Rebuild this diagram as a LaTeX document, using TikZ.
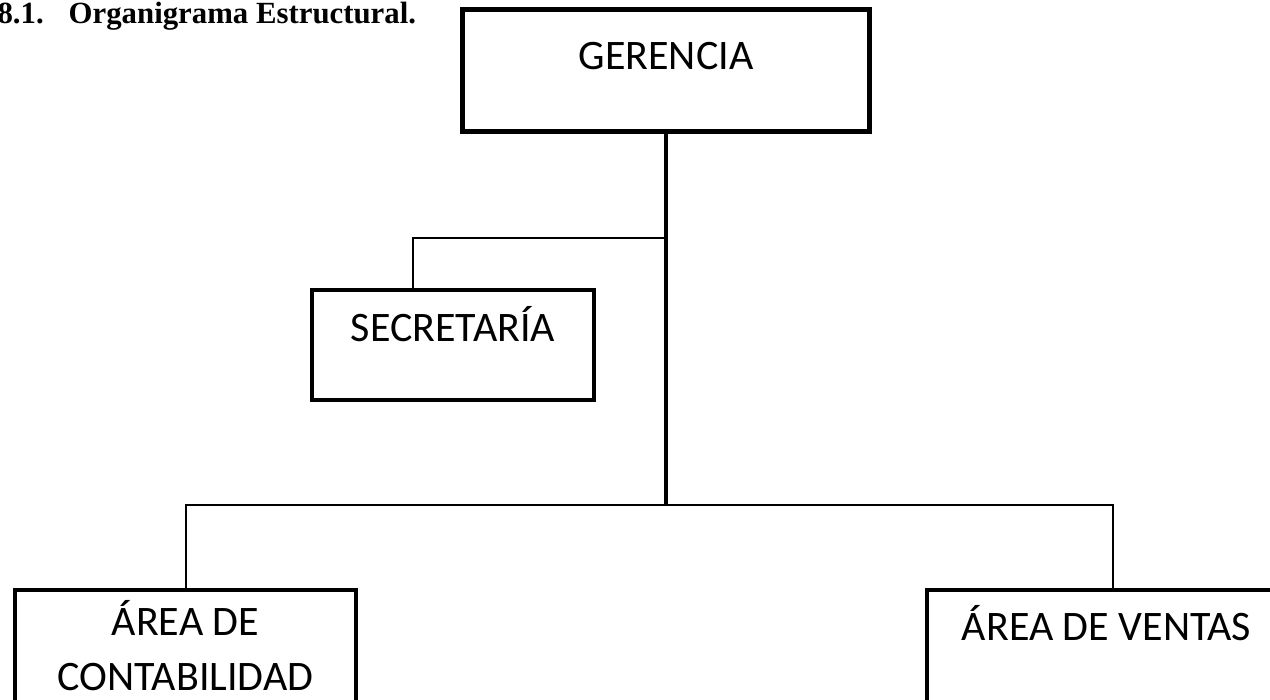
\documentclass[tikz,border=0pt]{standalone}
\usepackage{fontspec}
\setmainfont{Carlito}
\newfontfamily\titulofont{Liberation Serif}
\begin{document}
\begin{tikzpicture}[x=1pt, y=-1pt,
    caja/.style={draw, anchor=north, outer sep=0pt, inner ysep=0pt, align=center,
      font=\fontsize{42}{55}\selectfont},
    linea/.style={line width=2pt},
    tronco/.style={line width=4pt}]
    \useasboundingbox (0,0) rectangle (1270,700);
    \clip (0,0) rectangle (1270,700);

    % Título del apartado.
    \node[anchor=base west, font=\titulofont\bfseries\fontsize{30.8}{36}\selectfont]
      (titulo) at (-6,24) {8.1.\hspace{25pt}Organigrama Estructural.};

    % Cajas del organigrama.
    \node[caja, line width=5pt, minimum width=407pt, text height=60pt, text depth=62pt]
      (ger) at (666,10) {GERENCIA};
    \node[caja, line width=3.5pt, minimum width=282pt, text height=52pt, text depth=58pt]
      (sec) at (453,290) {SECRETARÍA};
    \node[caja, line width=4pt, minimum width=341pt, text height=100pt, text depth=40pt]
      (cont) at (185.5,590) {ÁREA DE\\CONTABILIDAD};
    \node[caja, line width=3.5pt, minimum width=359pt, text height=50pt, text depth=90pt]
      (vent) at (1106.5,590) {ÁREA DE VENTAS};

    % Puntos de unión sobre la línea principal.
    \coordinate (jsec) at (ger.south |- 0,238);
    \coordinate (jbot) at (ger.south |- 0,505);

    % Conectores.
    \draw[tronco] (ger.south) -- (jbot);
    \draw[linea] (jsec) -| ([xshift=-40pt]sec.north);
    \draw[linea] (cont.north) |- (jbot) -| ([xshift=6.5pt]vent.north);
  \end{tikzpicture}
\end{document}
